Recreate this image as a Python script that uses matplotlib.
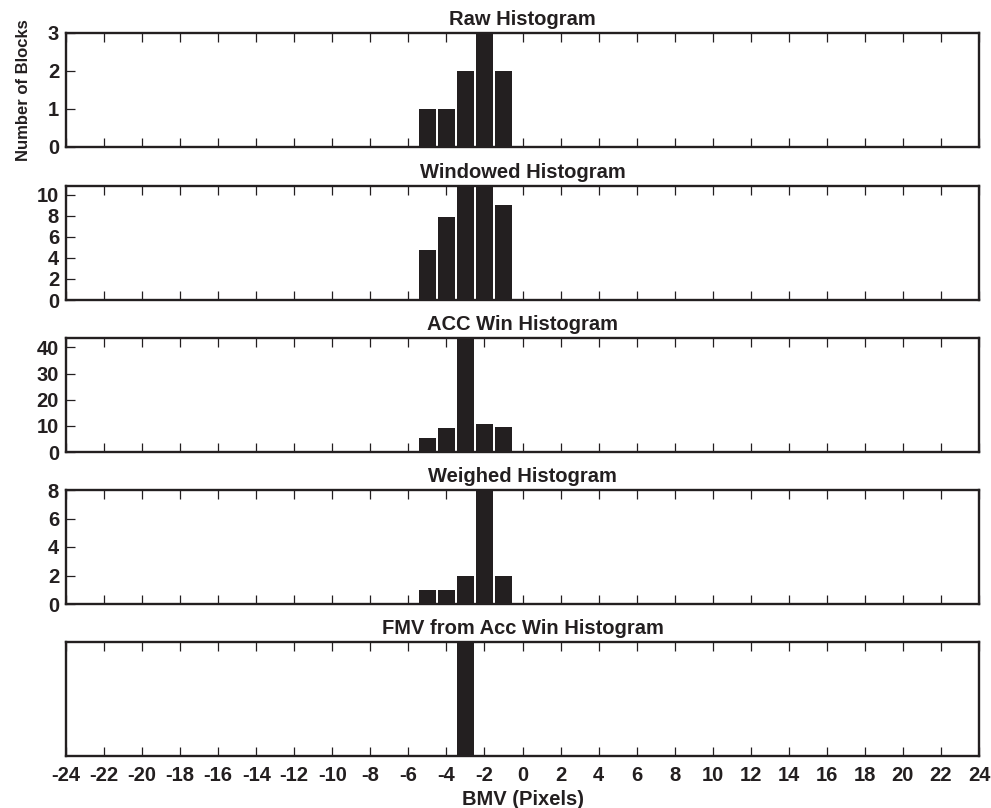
import matplotlib.pyplot as plt
import numpy as np

plt.rcParams['font.family'] = ['Liberation Sans', 'DejaVu Sans']
plt.rcParams['font.weight'] = 'bold'

INK = '#231f20'

# motion vector bins (pixels) and histogram counts
bmv = [-5, -4, -3, -2, -1]
raw_hist = [1, 1, 2, 3, 2]
windowed_hist = [4.75, 7.85, 12, 12, 9.0]
acc_win_hist = [5.4, 9.2, 48, 10.65, 9.5]
weighed_hist = [1, 1, 2, 8, 2]
fmv_bmv = [-3]
fmv_hist = [1]

titles = ["Raw Histogram", "Windowed Histogram", "ACC Win Histogram",
          "Weighed Histogram", "FMV from Acc Win Histogram"]
ylims = [3, 10.83, 43.6, 8, 1]
yticks = [[0, 1, 2, 3], [0, 2, 4, 6, 8, 10], [0, 10, 20, 30, 40],
          [0, 2, 4, 6, 8], []]
xticks = np.arange(-24, 25, 2)

W, H = 991, 808
fig = plt.figure(figsize=(W / 100, H / 100), dpi=100)

# panel tops in pixels
tops = [33, 186, 338, 490, 642]
panel_h = 114
left, right = 66, 979
fs = 14.5

series = [(bmv, raw_hist), (bmv, windowed_hist), (bmv, acc_win_hist),
          (bmv, weighed_hist), (fmv_bmv, fmv_hist)]

axes = []
for i, top in enumerate(tops):
    ax = fig.add_axes([left / W, 1 - (top + panel_h) / H,
                       (right - left) / W, panel_h / H])
    x, y = series[i]
    ax.bar(x, y, width=0.88, color=INK, linewidth=0)
    ax.set_xlim(-24, 24)
    ax.set_ylim(0, ylims[i])
    ax.set_xticks(xticks)
    ax.set_yticks(yticks[i])
    ax.tick_params(axis='x', direction='in', top=True, bottom=True,
                   length=6.5, width=0.9, color=INK, labelsize=fs,
                   labelcolor=INK, pad=7)
    ax.tick_params(axis='y', direction='in', left=True, right=False,
                   length=6.5, width=0.9, color=INK, labelsize=fs,
                   labelcolor=INK, pad=5)
    for s in ax.spines.values():
        s.set_linewidth(1.7)
        s.set_color(INK)
    ax.set_title(titles[i], fontsize=fs, fontweight='bold', color=INK, pad=6)
    if i < 4:
        ax.set_xticklabels([])
    else:
        ax.set_xticklabels([str(t) for t in xticks])
        ax.set_xlabel("BMV (Pixels)", fontsize=fs, fontweight='bold',
                      color=INK, labelpad=4)
    axes.append(ax)

axes[0].set_ylabel("Number of Blocks", fontsize=12, fontweight='bold',
                   color=INK, labelpad=12)

fig.savefig("out.png", dpi=100)
